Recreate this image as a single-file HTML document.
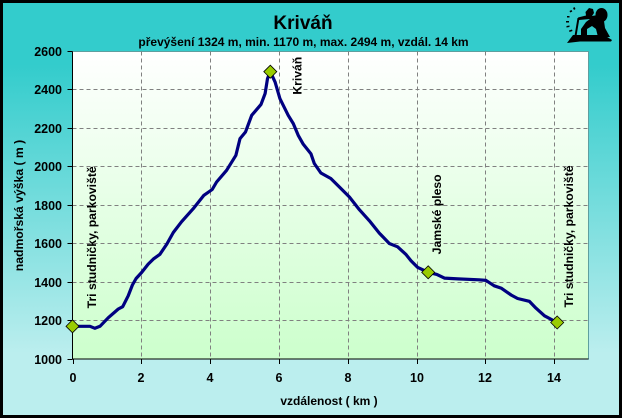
<!DOCTYPE html>
<html>
<head>
<meta charset="utf-8">
<style>
html,body{margin:0;padding:0;background:#000;}
svg{display:block;}
text{font-family:"Liberation Sans",Arial,sans-serif;font-weight:bold;fill:#000;}
</style>
</head>
<body>
<svg id="chart" width="622" height="418" viewBox="0 0 622 418" xmlns="http://www.w3.org/2000/svg">
<defs>
<linearGradient id="panelGrad" x1="0" y1="0" x2="0" y2="1"><stop offset="0" stop-color="#33cccc"/><stop offset="0.15" stop-color="#33cccc"/><stop offset="0.85" stop-color="#bbeeee"/><stop offset="1" stop-color="#bbeeee"/></linearGradient>
<linearGradient id="plotGrad" x1="0" y1="0" x2="0" y2="1"><stop offset="0" stop-color="#ffffff"/><stop offset="1" stop-color="#ccffcc"/></linearGradient>
</defs>
<rect x="0" y="0" width="622" height="418" fill="#000"/>
<rect x="3" y="3" width="616" height="412" fill="url(#panelGrad)"/>
<text x="303" y="29" font-size="19" text-anchor="middle">Kriváň</text>
<text x="303.5" y="46" font-size="12" text-anchor="middle">převýšení 1324 m, min. 1170 m, max. 2494 m, vzdál. 14 km</text>
<rect x="72.5" y="51.5" width="516" height="307.5" fill="url(#plotGrad)" stroke="#5f9f9f" stroke-width="1"/>
<g id="grid"></g>
<g id="axes"></g>
<text x="329" y="405" font-size="12" text-anchor="middle">vzdálenost ( km )</text>
<text transform="translate(23 205.500) rotate(-90)" font-size="12.200" text-anchor="middle">nadmořská výška ( m )</text>
<polyline id="profile" fill="none" stroke="#000080" stroke-width="3.200" stroke-linejoin="round" stroke-linecap="round"/>
<g id="waypoints"></g>
<g fill="#000" stroke="none">
<path d="M567 43 L573 35 L604 35 L612 40 L611 41.500 L580 41.500 Z"/>
<path d="M577.500 18 L579.500 18 L576.500 36 L574.500 36 Z"/>
<path d="M578 17.500 L586 15.500 L585.500 12 L589 8 L593 9 L594 13 L592 16 L598 15 L604 21 L605 28 L610 37 L598 37 L596 29 L592 26 L587 29 L587 37 L581 37 L581 29 L586 22 L590 19 L579 20 Z"/>
<ellipse cx="601.500" cy="15" rx="6" ry="7"/>
<path d="M573 8 l1.500 -1 l1 2 l-1.500 1 Z M569.500 11 l2 -1 l0.800 1.500 l-2 1 Z M567 16 l2.500 0 l0 1.500 l-2.500 0 Z M566 21 l3 0 l0 1.500 l-3 0 Z M566.500 26 l3 -0.500 l0 1.500 l-3 0.500 Z M569 30.500 l3 -1 l0.500 1.500 l-3 1 Z"/>
</g>
</svg>
<script>
const xTicks = [0, 2, 4, 6, 8, 10, 12, 14];
const yTicks = [1000, 1200, 1400, 1600, 1800, 2000, 2200, 2400, 2600];
const distanceKm = [0,0.51,0.65,0.8,1.04,1.33,1.46,1.62,1.74,1.85,2.01,2.2,2.35,2.54,2.74,2.93,3.17,3.51,3.82,4.06,4.19,4.48,4.75,4.87,5.03,5.21,5.48,5.6,5.67,5.75,5.89,6.03,6.27,6.42,6.56,6.71,6.93,7.03,7.22,7.51,7.76,8.05,8.34,8.63,8.92,9.21,9.45,9.69,9.84,10.03,10.34,10.59,10.81,11.2,11.82,12.02,12.26,12.46,12.75,12.94,13.28,13.47,13.72,13.95,14.09];
const elevationM = [1170,1170,1160,1170,1215,1260,1272,1329,1385,1419,1450,1494,1520,1545,1598,1658,1714,1782,1852,1882,1921,1982,2060,2147,2181,2268,2325,2381,2459,2495,2441,2355,2268,2225,2164,2117,2068,2017,1968,1939,1895,1843,1777,1719,1655,1601,1584,1545,1511,1477,1451,1440,1421,1417,1412,1409,1381,1369,1333,1315,1300,1265,1225,1203,1190];
const waypointKm = [0, 5.75, 10.34, 14.09];
const waypointM = [1170, 2495, 1451, 1190];
const waypointNames = ["Tri studničky, parkoviště", "Kriváň", "Jamské pleso", "Tri studničky, parkoviště"];

const NS = "http://www.w3.org/2000/svg";
const plot = {left: 72.5, right: 588.5, top: 51.5, bottom: 359, xMax: 15, yMin: 1000, yMax: 2600};
const labelDx = [23.5, 31, 13, 16];
const labelDy = [18, -23, 18, 15];
function xAxis(km) { return plot.left + km / plot.xMax * (plot.right - plot.left); }
function yAxis(m) { return plot.bottom - (m - plot.yMin) / (plot.yMax - plot.yMin) * (plot.bottom - plot.top); }
function make(tag, attrs, parent) {
  const el = document.createElementNS(NS, tag);
  for (const k in attrs) el.setAttribute(k, attrs[k]);
  parent.appendChild(el);
  return el;
}
const grid = document.getElementById("grid");
const axes = document.getElementById("axes");
const gridStyle = {stroke: "#808080", "stroke-width": 1, "stroke-dasharray": "4 3"};

xTicks.forEach(function (t) {
  const x = Math.round(xAxis(t)) + 0.5;
  if (t > 0) {
    const g = make("line", Object.assign({x1: x, x2: x, y1: plot.top, y2: plot.bottom}, gridStyle), grid);
    
    
  }
  const tick = make("line", {x1: x, x2: x, y1: plot.bottom, y2: plot.bottom + 5, stroke: "#000"}, axes);
  
  
  const label = make("text", {x: x - 0.5, y: 382, "font-size": 12.5, "text-anchor": "middle"}, axes);
  
  
  label.textContent = t;
});
yTicks.forEach(function (t) {
  const y = Math.round(yAxis(t) - 0.5) + 0.5;
  if (t > yTicks[0] && t < yTicks[yTicks.length - 1]) {
    const g = make("line", Object.assign({x1: plot.left, x2: plot.right, y1: y, y2: y}, gridStyle), grid);
    
    
  }
  const tick = make("line", {x1: plot.left - 5, x2: plot.left, y1: y, y2: y, stroke: "#000"}, axes);
  
  
  const label = make("text", {x: 62, y: y + 4.5, "font-size": 12.5, "text-anchor": "end"}, axes);
  
  
  label.textContent = t;
});
const yLine = make("line", {x1: plot.left, x2: plot.left, y1: plot.top, y2: plot.bottom, stroke: "#000"}, axes);


const xLine = make("line", {x1: plot.left, x2: plot.right, y1: plot.bottom, y2: plot.bottom, stroke: "#000"}, axes);



document.getElementById("profile").setAttribute("points", distanceKm.map(function (d, i) {
  return xAxis(d).toFixed(1) + "," + yAxis(elevationM[i]).toFixed(1);
}).join(" "));

const wp = document.getElementById("waypoints");
waypointKm.forEach(function (d, i) {
  const cx = xAxis(d), cy = yAxis(waypointM[i]);
  const r = 6.5;
  const marker = make("polygon", {points: [cx, cy - r, cx + r, cy, cx, cy + r, cx - r, cy].join(" "), fill: "#99cc00", stroke: "#000", "stroke-width": 0.8}, wp);
  
  
  const lx = cx + labelDx[i];
  const ly = cy - labelDy[i];
  const label = make("text", {transform: "translate(" + lx + " " + ly + ") rotate(-90)", "font-size": 12.2}, wp);
  
  
  label.textContent = waypointNames[i];
});
</script>
</body>
</html>
